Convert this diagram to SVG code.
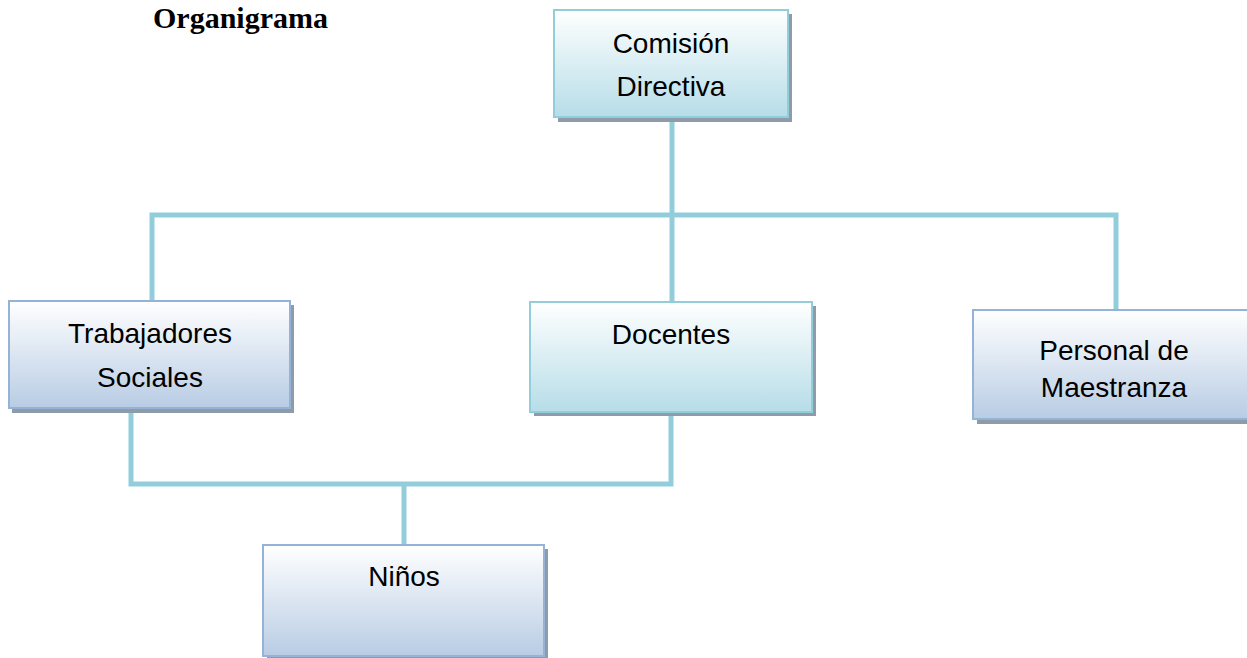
<svg xmlns="http://www.w3.org/2000/svg" width="1247" height="658" viewBox="0 0 1247 658">
<defs>
<linearGradient id="gAqua" x1="0" y1="0" x2="0" y2="1">
<stop offset="0" stop-color="#ffffff"/>
<stop offset="1" stop-color="#b6dde8"/>
</linearGradient>
<linearGradient id="gBlue" x1="0" y1="0" x2="0" y2="1">
<stop offset="0" stop-color="#ffffff"/>
<stop offset="1" stop-color="#b8cce4"/>
</linearGradient>
</defs>
<style>
.shadow{fill:#8d9ca8}
.aqua{fill:url(#gAqua);stroke:#92cddc;stroke-width:2}
.blue{fill:url(#gBlue);stroke:#95b3d7;stroke-width:2}
.lbl{font-family:"Liberation Sans",Arial,sans-serif;font-size:28px;fill:#000;text-anchor:middle}
.conn{fill:none;stroke:#92cddc;stroke-width:5}
.title{font-family:"Liberation Serif","Times New Roman",serif;font-weight:bold;font-size:30px;fill:#000}
</style>
<rect width="1247" height="658" fill="#ffffff"/>
<text class="title" x="153" y="28">Organigrama</text>
<g id="connectors">
<path class="conn" d="M672,118 V302"/>
<path class="conn" d="M152,301 V215 H1116 V310"/>
<path class="conn" d="M131,412 V484 H671 V415"/>
<path class="conn" d="M404,484 V545"/>
</g>
<g id="comision">
<rect class="shadow" x="558" y="14" width="234" height="108"/>
<rect class="aqua" x="554" y="10" width="234" height="107"/>
<text class="lbl" x="671" y="53">Comisión</text>
<text class="lbl" x="671" y="96">Directiva</text>
</g>
<g id="trabajadores">
<rect class="shadow" x="12" y="305" width="282" height="108"/>
<rect class="blue" x="9" y="301" width="281" height="107"/>
<text class="lbl" x="150" y="343">Trabajadores</text>
<text class="lbl" x="150" y="387">Sociales</text>
</g>
<g id="docentes">
<rect class="shadow" x="534" y="306" width="282" height="110"/>
<rect class="aqua" x="530" y="302" width="282" height="110"/>
<text class="lbl" x="671" y="344">Docentes</text>
</g>
<g id="personal">
<rect class="shadow" x="977" y="314" width="280" height="110"/>
<rect class="blue" x="973" y="310" width="280" height="109"/>
<text class="lbl" x="1114" y="360">Personal de</text>
<text class="lbl" x="1114" y="397">Maestranza</text>
</g>
<g id="ninos">
<rect class="shadow" x="267" y="549" width="281" height="115"/>
<rect class="blue" x="263" y="545" width="281" height="111"/>
<text class="lbl" x="404" y="586">Niños</text>
</g>
</svg>
